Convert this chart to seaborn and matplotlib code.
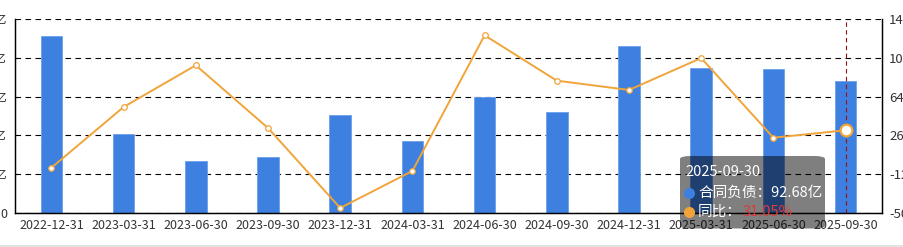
import numpy as np
import pandas as pd
import matplotlib
matplotlib.use("Agg")
import matplotlib.pyplot as plt
from matplotlib.patches import FancyBboxPatch
from matplotlib.lines import Line2D
import seaborn as sns

# ---- data ----
dates = ["2022-12-31", "2023-03-31", "2023-06-30", "2023-09-30", "2023-12-31", "2024-03-31",
         "2024-06-30", "2024-09-30", "2024-12-31", "2025-03-31", "2025-06-30", "2025-09-30"]
liabilities = [123.7, 55.2, 36.3, 39.3, 68.5, 50.3, 81.5, 70.6, 116.7, 101.5, 100.6, 92.68]  # 亿
yoy = [-5.5, 53.8, 94.5, 33.3, -44.8, -8.7, 123.8, 79.5, 70.4, 101.6, 23.8, 31.05]  # %
left_ticks = [0, 27.2, 54.4, 81.6, 108.8, 136]
right_ticks = [-50, -12, 26, 64, 102, 140]

series_name = "合同负债"
yoy_name = "同比"

BLUE = "#3d80e0"
ORANGE = "#f0a43a"

df = pd.DataFrame({"date": dates, "liab": liabilities, "yoy": yoy})

sns.set_theme(style="white")
plt.rcParams["font.family"] = ["Noto Sans CJK SC", "DejaVu Sans"]
plt.rcParams["axes.unicode_minus"] = False

W, H = 904, 247
fig = plt.figure(figsize=(W / 100, H / 100), dpi=100)
left_px, right_px, top_px, bottom_px = 15.3, 881.7, 18.7, 213.3
ax = fig.add_axes([left_px / W, 1 - bottom_px / H, (right_px - left_px) / W, (bottom_px - top_px) / H])

sns.barplot(data=df, x="date", y="liab", color=BLUE, saturation=1, width=0.3,
            ax=ax, errorbar=None, edgecolor="#6aa0ec", linewidth=0.6)
ax.set_xlim(-0.5, len(dates) - 0.5)
ax.set_ylim(left_ticks[0], left_ticks[-1])
ax.set_yticks(left_ticks)
ax.set_yticklabels(["0" if v == 0 else f"{v:g}亿" for v in left_ticks])
ax.set_xlabel("")
ax.set_ylabel("")
ax.yaxis.grid(True, color="black", linestyle=(0, (5, 4)), linewidth=0.8)
ax.set_axisbelow(True)
ax.tick_params(axis="both", length=0, labelsize=9, colors="#333333")
ax.tick_params(axis="y", pad=6)
ax.tick_params(axis="x", pad=4)
for s in ["left", "bottom", "right"]:
    ax.spines[s].set_color("black")
    ax.spines[s].set_linewidth(0.9)
ax.spines["top"].set_visible(False)

ax2 = ax.twinx()
ax2.axvline(len(dates) - 1, color="#9b1010", linestyle=(0, (4, 3)), linewidth=0.8, zorder=1)
sns.pointplot(data=df, x="date", y="yoy", color=ORANGE, ax=ax2, errorbar=None,
              markers="o", markersize=4, markerfacecolor="white",
              markeredgecolor=ORANGE, markeredgewidth=0.9, linewidth=1.4)
ax2.plot([len(dates) - 1], [yoy[-1]], marker="o", markersize=8.5, markerfacecolor="white",
         markeredgecolor=ORANGE, markeredgewidth=1.6, linestyle="none", zorder=5)
ax2.set_xlim(-0.5, len(dates) - 0.5)
ax2.set_ylim(right_ticks[0], right_ticks[-1])
ax2.set_yticks(right_ticks)
ax2.set_yticklabels([f"{v}%" for v in right_ticks])
ax2.set_xlabel("")
ax2.set_ylabel("")
ax2.tick_params(axis="y", length=0, labelsize=9.5, colors="#333333", pad=5.4)
for s in ["left", "bottom", "right"]:
    ax2.spines[s].set_color("black")
    ax2.spines[s].set_linewidth(0.9)
ax2.spines["top"].set_visible(False)
ax2.grid(False)

# ---- tooltip ----
def fx(px):
    return px / W

def fy(py):
    return 1 - py / H

box = FancyBboxPatch((fx(680), fy(228.5)), fx(825) - fx(680), fy(156) - fy(228.5),
                     boxstyle="round,pad=0,rounding_size=0.012", transform=fig.transFigure,
                     facecolor="black", alpha=0.5, edgecolor="none", zorder=20)
fig.add_artist(box)
fig.text(fx(685), fy(172), dates[-1], color="white", fontsize=10.5, va="center", ha="left", zorder=21)
fig.add_artist(Line2D([fx(689)], [fy(193)], marker="o", markersize=7, color=BLUE,
                      linestyle="none", transform=fig.transFigure, zorder=21))
fig.text(fx(698), fy(193), f"{series_name}：{liabilities[-1]:.2f}亿", color="white",
         fontsize=10.5, va="center", ha="left", zorder=21)
fig.add_artist(Line2D([fx(689)], [fy(212)], marker="o", markersize=7, color=ORANGE,
                      linestyle="none", transform=fig.transFigure, zorder=21))
fig.text(fx(698), fy(212), f"{yoy_name}：", color="white", fontsize=10.5, va="center", ha="left", zorder=21)
fig.text(fx(743), fy(212), f"{yoy[-1]:.2f}%", color="#e03a3a", fontsize=10.5, va="center", ha="left", zorder=21)

# bottom border line
fig.add_artist(Line2D([0, 1], [fy(245.5), fy(245.5)], color="#dddddd", linewidth=1.2,
                      transform=fig.transFigure))

fig.savefig("out.png", dpi=100)
